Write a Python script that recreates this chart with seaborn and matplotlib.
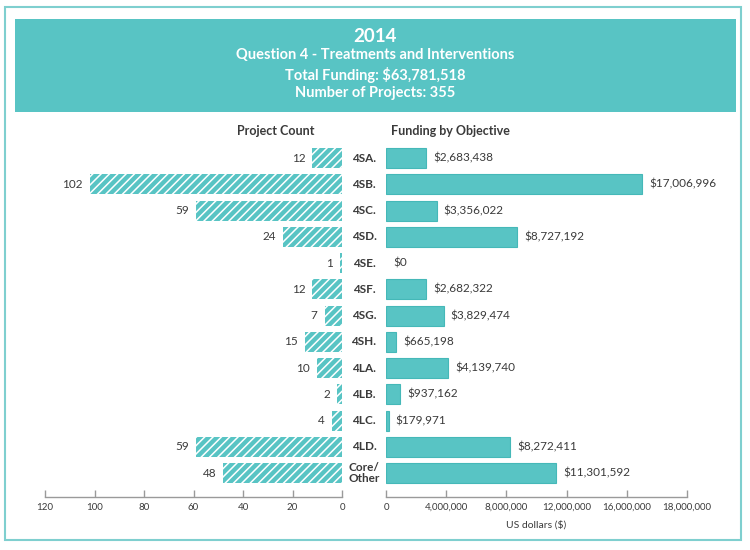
import matplotlib
matplotlib.use("Agg")
import matplotlib.pyplot as plt
import matplotlib.patches as mpatches
import matplotlib.transforms as mtransforms
import seaborn as sns
import pandas as pd

# Chart data
categories = ["4SA.", "4SB.", "4SC.", "4SD.", "4SE.", "4SF.", "4SG.",
              "4SH.", "4LA.", "4LB.", "4LC.", "4LD.", "Core/\nOther"]
project_counts = [12, 102, 59, 24, 1, 12, 7, 15, 10, 2, 4, 59, 48]
funding = [2683438, 17006996, 3356022, 8727192, 0, 2682322, 3829474,
           665198, 4139740, 937162, 179971, 8272411, 11301592]
count_ticks = [120, 100, 80, 60, 40, 20, 0]
funding_ticks = [0, 4000000, 8000000, 12000000, 16000000, 20000000]
funding_tick_labels = ["0", "4,000,000", "8,000,000", "12,000,000",
                       "16,000,000", "18,000,000"]
title_lines = ["2014", "Question 4 - Treatments and Interventions",
               "Total Funding: $63,781,518", "Number of Projects: 355"]

TEAL = "#58C4C4"
TEAL_EDGE = "#45B8B8"
TEXT = "#3a3a3a"
AXIS_GRAY = "#9a9a9a"

sns.set_theme(style="white")
plt.rcParams["font.family"] = ["Lato", "DejaVu Sans"]
plt.rcParams["hatch.color"] = "white"
plt.rcParams["hatch.linewidth"] = 1.1

df = pd.DataFrame({"Objective": categories, "Count": project_counts, "Funding": funding})

fig = plt.figure(figsize=(7.5, 5.5), dpi=100)
W, H = 750, 550

def fig_rect(x0, y0, x1, y1):
    return [x0 / W, 1 - y1 / H, (x1 - x0) / W, (y1 - y0) / H]

# outer border and title box
bx = fig_rect(5, 7, 741, 540)
fig.patches.append(mpatches.Rectangle((bx[0], bx[1]), bx[2], bx[3], transform=fig.transFigure,
                                      fill=False, edgecolor="#7FCFCF", linewidth=1.5))
tb = fig_rect(15, 19, 736, 112)
fig.patches.append(mpatches.Rectangle((tb[0], tb[1]), tb[2], tb[3], transform=fig.transFigure,
                                      facecolor=TEAL, edgecolor="none"))
for i, (line, ypix) in enumerate(zip(title_lines, [36, 55, 75, 93])):
    fig.text(0.5, 1 - ypix / H, line, ha="center", va="center", color="white",
             fontsize=13.5 if i == 0 else 10.5, fontweight="bold")

ylims = (12.91, -0.5)

# Left: project count (hatched)
ax_l = fig.add_axes(fig_rect(45, 145, 342, 497))
sns.barplot(data=df, x="Count", y="Objective", ax=ax_l, color=TEAL,
            saturation=1, width=0.76, orient="h")
for p in ax_l.patches:
    p.set_hatch("////")
    p.set_edgecolor("white")
    p.set_linewidth(0)
ax_l.set_xlim(120, 0)
ax_l.set_ylim(*ylims)
ax_l.set_xticks(count_ticks)
ax_l.set_xticklabels([str(t) for t in count_ticks])
for i, v in enumerate(project_counts):
    ax_l.annotate(str(v), (v, i), xytext=(-5, 0), textcoords="offset points",
                  ha="right", va="center", fontsize=8.5, color=TEXT)

# Right: funding by objective
ax_r = fig.add_axes(fig_rect(386, 145, 687, 497))
sns.barplot(data=df, x="Funding", y="Objective", ax=ax_r, color=TEAL,
            saturation=1, width=0.76, orient="h", edgecolor=TEAL_EDGE, linewidth=0.8)
for p in ax_r.patches:
    if p.get_width() == 0:
        p.set_visible(False)
ax_r.set_xlim(0, 20000000)
ax_r.set_ylim(*ylims)
ax_r.set_xticks(funding_ticks)
ax_r.set_xticklabels(funding_tick_labels)
for i, v in enumerate(funding):
    ax_r.annotate(f"${v:,}", (v, i), xytext=(5, 0), textcoords="offset points",
                  ha="left", va="center", fontsize=8.5, color=TEXT)
ax_r.set_xlabel("US dollars ($)", fontsize=7.5, color=TEXT, labelpad=6)

# category labels in the gap between the two panels
trans = mtransforms.blended_transform_factory(fig.transFigure, ax_r.transData)
for i, c in enumerate(categories):
    ax_r.text(364 / W, i, c, transform=trans, ha="center", va="center",
              fontsize=8.5, fontweight="bold", color=TEXT, linespacing=1.0)

for ax in (ax_l, ax_r):
    sns.despine(ax=ax, left=True, top=True, right=True)
    ax.spines["bottom"].set_color(AXIS_GRAY)
    ax.spines["bottom"].set_linewidth(1.0)
    ax.set_yticks([])
    ax.set_ylabel("")
    ax.tick_params(axis="x", direction="in", length=5, width=1, color=AXIS_GRAY,
                   labelsize=7, labelcolor=TEXT, pad=4, bottom=True)
    ax.set_facecolor("none")
ax_l.set_xlabel("")

fig.text(276 / W, 1 - 131 / H, "Project Count", ha="center", va="center",
         fontsize=9, fontweight="bold", color=TEXT)
fig.text(450 / W, 1 - 131 / H, "Funding by Objective", ha="center", va="center",
         fontsize=9, fontweight="bold", color=TEXT)

fig.savefig("out.png", dpi=100, facecolor="white")
